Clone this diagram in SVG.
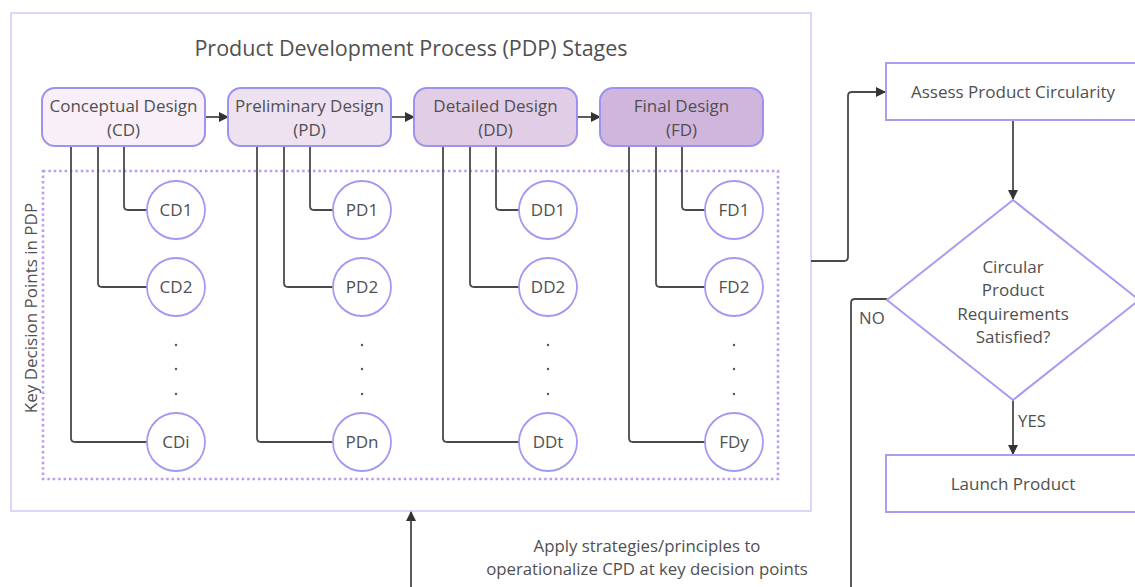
<svg xmlns="http://www.w3.org/2000/svg" width="1135" height="587" viewBox="0 0 1135 587">
  <style>
    text { font-family: "Open Sans", "Noto Sans", "Liberation Sans", sans-serif; fill: #505050; }
    .t15 { font-size: 17px; }
    .t14 { font-size: 16.8px; }
    .title { font-size: 21.5px; }
    .stage { stroke: #9d92ee; stroke-width: 2; }
    .kdp { fill: #ffffff; stroke: #a398f2; stroke-width: 1.8; }
    .box { fill: #ffffff; stroke: #a89cf4; stroke-width: 2; }
    .frame { fill: #ffffff; stroke: #dcd6fb; stroke-width: 2; }
    .wire { fill: none; stroke: #4a4a4a; stroke-width: 1.8; stroke-linejoin: round; }
    .dot { fill: #555555; }
  </style>
  <defs>
    <marker id="arrow" viewBox="0 0 10 10" refX="9" refY="5" markerWidth="10" markerHeight="10" markerUnits="userSpaceOnUse" orient="auto">
      <path d="M0,0 L10,5 L0,10 z" fill="#333333"/>
    </marker>
  </defs>

  <rect width="1135" height="587" fill="#ffffff"/>

  <!-- PDP frame -->
  <g id="pdp-frame">
    <rect class="frame" x="11" y="13" width="800" height="498"/>
    <text class="title" x="411" y="56" text-anchor="middle">Product Development Process (PDP) Stages</text>
  </g>

  <!-- key decision points region -->
  <g id="kdp-region">
    <rect x="43" y="171" width="735" height="308" fill="none" stroke="#bb98f4" stroke-width="2.6" stroke-dasharray="2.4 3"/>
    <text class="t15" transform="translate(37,308) rotate(-90)" text-anchor="middle">Key Decision Points in PDP</text>
  </g>

  <!-- connectors -->
  <g id="connectors">
    <!-- stage to stage -->
    <line class="wire" x1="205" y1="117" x2="228" y2="117" marker-end="url(#arrow)"/>
    <line class="wire" x1="391" y1="117" x2="414" y2="117" marker-end="url(#arrow)"/>
    <line class="wire" x1="577" y1="117" x2="600" y2="117" marker-end="url(#arrow)"/>

    <!-- CD branches -->
    <path class="wire" d="M124,146 V206 Q124,210 128,210 H147"/>
    <path class="wire" d="M98,146 V283 Q98,287 102,287 H147"/>
    <path class="wire" d="M71,146 V438 Q71,442 75,442 H147"/>
    <!-- PD branches -->
    <path class="wire" d="M310,146 V206 Q310,210 314,210 H333"/>
    <path class="wire" d="M284,146 V283 Q284,287 288,287 H333"/>
    <path class="wire" d="M257,146 V438 Q257,442 261,442 H333"/>
    <!-- DD branches -->
    <path class="wire" d="M496,146 V206 Q496,210 500,210 H519"/>
    <path class="wire" d="M470,146 V283 Q470,287 474,287 H519"/>
    <path class="wire" d="M443,146 V438 Q443,442 447,442 H519"/>
    <!-- FD branches -->
    <path class="wire" d="M682,146 V206 Q682,210 686,210 H705"/>
    <path class="wire" d="M656,146 V283 Q656,287 660,287 H705"/>
    <path class="wire" d="M629,146 V438 Q629,442 633,442 H705"/>

    <!-- PDP frame to assessment -->
    <path class="wire" d="M811,261 H844 Q848,261 848,257 V96 Q848,92 852,92 H885" marker-end="url(#arrow)"/>
    <!-- assessment to decision -->
    <line class="wire" x1="1013" y1="120" x2="1013" y2="199" marker-end="url(#arrow)"/>
    <!-- YES -->
    <line class="wire" x1="1013" y1="400" x2="1013" y2="454" marker-end="url(#arrow)"/>
    <!-- NO -->
    <path class="wire" d="M887,299 H855 Q851,299 851,303 V587"/>
    <!-- feedback into PDP -->
    <line class="wire" x1="411" y1="587" x2="411" y2="512" marker-end="url(#arrow)"/>
  </g>

  <!-- stages -->
  <g id="stage-cd">
    <rect class="stage" x="42" y="88" width="163" height="58" rx="13" fill="#f8eff8"/>
    <text class="t15" x="123.5" y="112" text-anchor="middle">Conceptual Design</text>
    <text class="t15" x="123.5" y="136" text-anchor="middle">(CD)</text>
  </g>
  <g id="stage-pd">
    <rect class="stage" x="228" y="88" width="163" height="58" rx="13" fill="#eee2f0"/>
    <text class="t15" x="309.5" y="112" text-anchor="middle">Preliminary Design</text>
    <text class="t15" x="309.5" y="136" text-anchor="middle">(PD)</text>
  </g>
  <g id="stage-dd">
    <rect class="stage" x="414" y="88" width="163" height="58" rx="13" fill="#e2cde7"/>
    <text class="t15" x="495.5" y="112" text-anchor="middle">Detailed Design</text>
    <text class="t15" x="495.5" y="136" text-anchor="middle">(DD)</text>
  </g>
  <g id="stage-fd">
    <rect class="stage" x="600" y="88" width="163" height="58" rx="13" fill="#d0b6dd"/>
    <text class="t15" x="681.5" y="112" text-anchor="middle">Final Design</text>
    <text class="t15" x="681.5" y="136" text-anchor="middle">(FD)</text>
  </g>

  <!-- decision points: CD -->
  <g id="cd1"><circle class="kdp" cx="176" cy="210" r="29"/><text class="t15" x="176" y="216" text-anchor="middle">CD1</text></g>
  <g id="cd2"><circle class="kdp" cx="176" cy="287" r="29"/><text class="t15" x="176" y="293" text-anchor="middle">CD2</text></g>
  <g id="cd-more"><circle class="dot" cx="176" cy="345" r="1.2"/><circle class="dot" cx="176" cy="369" r="1.2"/><circle class="dot" cx="176" cy="394" r="1.2"/></g>
  <g id="cdi"><circle class="kdp" cx="176" cy="442" r="29"/><text class="t15" x="176" y="448" text-anchor="middle">CDi</text></g>

  <!-- decision points: PD -->
  <g id="pd1"><circle class="kdp" cx="362" cy="210" r="29"/><text class="t15" x="362" y="216" text-anchor="middle">PD1</text></g>
  <g id="pd2"><circle class="kdp" cx="362" cy="287" r="29"/><text class="t15" x="362" y="293" text-anchor="middle">PD2</text></g>
  <g id="pd-more"><circle class="dot" cx="362" cy="345" r="1.2"/><circle class="dot" cx="362" cy="369" r="1.2"/><circle class="dot" cx="362" cy="394" r="1.2"/></g>
  <g id="pdn"><circle class="kdp" cx="362" cy="442" r="29"/><text class="t15" x="362" y="448" text-anchor="middle">PDn</text></g>

  <!-- decision points: DD -->
  <g id="dd1"><circle class="kdp" cx="548" cy="210" r="29"/><text class="t15" x="548" y="216" text-anchor="middle">DD1</text></g>
  <g id="dd2"><circle class="kdp" cx="548" cy="287" r="29"/><text class="t15" x="548" y="293" text-anchor="middle">DD2</text></g>
  <g id="dd-more"><circle class="dot" cx="548" cy="345" r="1.2"/><circle class="dot" cx="548" cy="369" r="1.2"/><circle class="dot" cx="548" cy="394" r="1.2"/></g>
  <g id="ddt"><circle class="kdp" cx="548" cy="442" r="29"/><text class="t15" x="548" y="448" text-anchor="middle">DDt</text></g>

  <!-- decision points: FD -->
  <g id="fd1"><circle class="kdp" cx="734" cy="210" r="29"/><text class="t15" x="734" y="216" text-anchor="middle">FD1</text></g>
  <g id="fd2"><circle class="kdp" cx="734" cy="287" r="29"/><text class="t15" x="734" y="293" text-anchor="middle">FD2</text></g>
  <g id="fd-more"><circle class="dot" cx="734" cy="345" r="1.2"/><circle class="dot" cx="734" cy="369" r="1.2"/><circle class="dot" cx="734" cy="394" r="1.2"/></g>
  <g id="fdy"><circle class="kdp" cx="734" cy="442" r="29"/><text class="t15" x="734" y="448" text-anchor="middle">FDy</text></g>

  <!-- assessment flow -->
  <g id="assess">
    <rect class="box" x="886" y="63" width="254" height="57"/>
    <text class="t15" x="1013" y="98" text-anchor="middle">Assess Product Circularity</text>
  </g>
  <g id="decision">
    <polygon class="box" points="1013,200 1139,300 1013,400 887,300"/>
    <text class="t15" x="1013" y="273" text-anchor="middle">Circular</text>
    <text class="t15" x="1013" y="296" text-anchor="middle">Product</text>
    <text class="t15" x="1013" y="320" text-anchor="middle">Requirements</text>
    <text class="t15" x="1013" y="343" text-anchor="middle">Satisfied?</text>
  </g>
  <g id="launch">
    <rect class="box" x="886" y="455" width="254" height="57"/>
    <text class="t15" x="1013" y="490" text-anchor="middle">Launch Product</text>
  </g>

  <!-- edge labels -->
  <g id="labels">
    <text class="t14" x="1018" y="427">YES</text>
    <text class="t14" x="859" y="324">NO</text>
    <text class="t14" x="647" y="552" text-anchor="middle">Apply strategies/principles to</text>
    <text class="t14" x="647" y="575" text-anchor="middle">operationalize CPD at key decision points</text>
  </g>
</svg>
